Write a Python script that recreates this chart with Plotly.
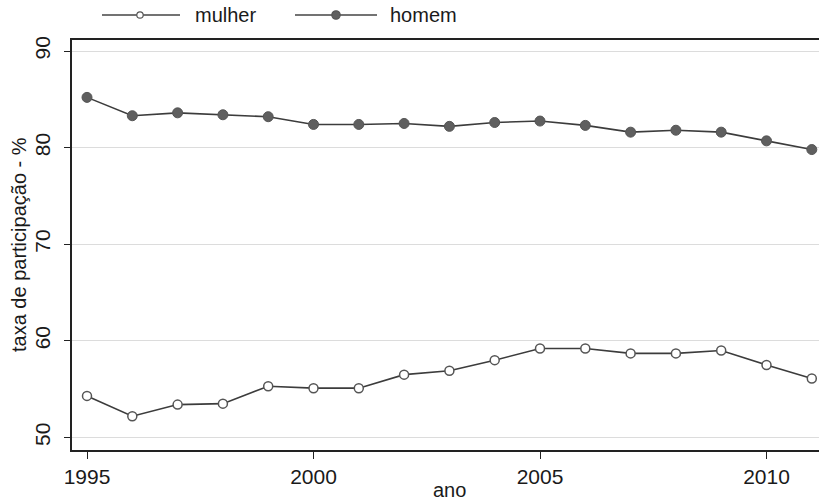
import plotly.graph_objects as go

years = list(range(1995, 2012))
mulher = [54.3, 52.2, 53.4, 53.5, 55.3, 55.1, 55.1, 56.5, 56.9, 58.0, 59.2, 59.2, 58.7, 58.7, 59.0, 57.5, 56.1]
homem = [85.2, 83.3, 83.6, 83.4, 83.2, 82.4, 82.4, 82.5, 82.2, 82.6, 82.75, 82.3, 81.6, 81.8, 81.6, 80.7, 79.8]
series_names = ["mulher", "homem"]
x_ticks = [1995, 2000, 2005, 2010]
y_ticks = [50, 60, 70, 80, 90]
x_title = "ano"
y_title = "taxa de participação - %"

FONT = "Liberation Sans, Arial, sans-serif"
LINE = "#3c3c3c"

fig = go.Figure()
fig.add_trace(go.Scatter(
    x=years, y=mulher, name=series_names[0], mode="lines+markers",
    line=dict(color=LINE, width=1.6),
    marker=dict(symbol="circle", size=9, color="white", line=dict(color="#555555", width=1.5)),
    showlegend=False, cliponaxis=False,
))
fig.add_trace(go.Scatter(
    x=years, y=homem, name=series_names[1], mode="lines+markers",
    line=dict(color=LINE, width=1.6),
    marker=dict(symbol="circle", size=10, color="#5f5f5f", line=dict(color="#555555", width=1)),
    showlegend=False, cliponaxis=False,
))

W, H = 900, 501
L, R, T, B = 72, 0, 40, 51
pw = W - L - R
ph = H - T - B
# x pixel mapping: 1995 at 87 px, 45.3 px per year
x_lo = 1995 - (87 - L) / 45.3
x_hi = 1995 + (W - 87) / 45.3

def px2paper_x(px):
    return (px - L) / pw

def px2paper_y(py):
    return (H - B - py) / ph

shapes = []
annotations = []
legend_items = [
    (series_names[0], 102, 180, 140, 193, "white", 3.2),
    (series_names[1], 295, 377, 336, 388, "#5f5f5f", 4.2),
]
ly = px2paper_y(15)
for name, x0, x1, xm, xt, fill, r in legend_items:
    shapes.append(dict(type="line", xref="paper", yref="paper",
                       x0=px2paper_x(x0), x1=px2paper_x(x1), y0=ly, y1=ly,
                       line=dict(color="#444444", width=1.4)))
    shapes.append(dict(type="circle", xref="paper", yref="paper",
                       xsizemode="pixel", ysizemode="pixel",
                       xanchor=px2paper_x(xm), yanchor=ly,
                       x0=-r, x1=r, y0=-r, y1=r,
                       fillcolor=fill, line=dict(color="#555555", width=1.2)))
    annotations.append(dict(text=name, xref="paper", yref="paper",
                            x=px2paper_x(xt), y=ly, xanchor="left", yanchor="middle",
                            showarrow=False, font=dict(family=FONT, size=20, color="#1a1a1a")))

annotations.append(dict(text=x_title, xref="paper", yref="paper",
                        x=px2paper_x(449), y=px2paper_y(490), xanchor="center", yanchor="middle",
                        showarrow=False, font=dict(family=FONT, size=20, color="#1a1a1a")))
annotations.append(dict(text=y_title, xref="paper", yref="paper", textangle=-90,
                        x=px2paper_x(19), y=px2paper_y(245), xanchor="center", yanchor="middle",
                        showarrow=False, font=dict(family=FONT, size=20, color="#1a1a1a")))

fig.update_layout(
    width=W, height=H,
    margin=dict(l=L, r=R, t=T, b=B, pad=0, autoexpand=False),
    paper_bgcolor="white", plot_bgcolor="white",
    font=dict(family=FONT, color="#1a1a1a", size=20),
    shapes=shapes, annotations=annotations,
    xaxis=dict(
        range=[x_lo, x_hi], tickvals=x_ticks, ticks="outside", ticklen=7,
        tickcolor="#222222", tickwidth=1.2, automargin=False,
        showline=True, linecolor="#222222", linewidth=1.6, mirror=True,
        showgrid=False, zeroline=False,
        tickfont=dict(family=FONT, size=21, color="#1a1a1a"),
    ),
    yaxis=dict(
        range=[48.7, 91.14], tickvals=y_ticks, ticks="outside", ticklen=6,
        tickcolor="#222222", tickwidth=1.2, tickangle=-90, automargin=False,
        ticklabelstandoff=6,
        showline=True, linecolor="#222222", linewidth=1.6,
        showgrid=True, gridcolor="#dcdcdc", gridwidth=1, zeroline=False,
        tickfont=dict(family=FONT, size=21, color="#1a1a1a"),
    ),
)

fig.write_html("out.html", config={"displayModeBar": False},
               post_script="document.body.style.margin='0';document.body.style.overflow='hidden';")
